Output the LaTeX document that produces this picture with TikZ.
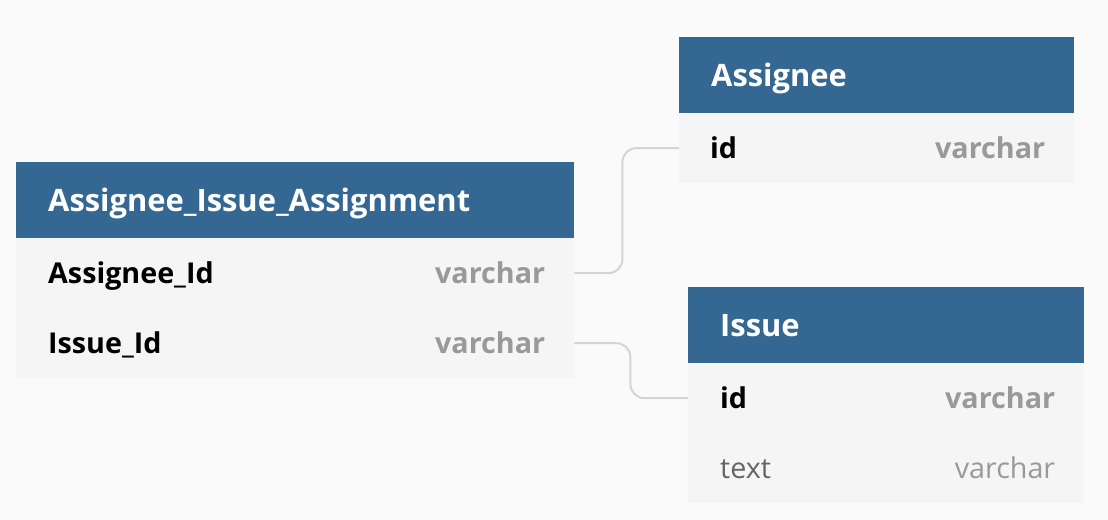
\documentclass[tikz,border=0pt]{standalone}
\usepackage{fontspec}
\setmainfont{Open Sans}
\usetikzlibrary{positioning}
\definecolor{hdrblue}{RGB}{52,104,146}
\definecolor{rowgray}{RGB}{245,245,245}
\definecolor{pagegray}{RGB}{250,250,250}
\definecolor{linkgray}{RGB}{212,212,212}
\definecolor{typegray}{RGB}{153,153,153}
\definecolor{plaingray}{RGB}{102,102,102}
\tikzset{
  tblhead/.style={fill=hdrblue,anchor=north west,minimum height=76bp,inner xsep=32bp,inner ysep=0pt,
    align=left,text=white,text height=22bp,text depth=0pt,font=\fontsize{31}{36}\selectfont\bfseries},
  tblrow/.style={fill=rowgray,anchor=north west,minimum height=70bp,inner sep=0pt},
  keyname/.style={anchor=west,inner sep=0pt,text height=20.5bp,text depth=0pt,font=\fontsize{28.8}{34}\selectfont\bfseries},
  plainname/.style={keyname,text=plaingray,font=\fontsize{28.8}{34}\selectfont},
  keytype/.style={anchor=east,inner sep=0pt,text height=20.5bp,text depth=0pt,text=typegray,font=\fontsize{28.8}{34}\selectfont\bfseries},
  plaintype/.style={keytype,font=\fontsize{28.8}{34}\selectfont},
  link/.style={draw=linkgray,line width=2bp,rounded corners=14bp},
}
\begin{document}
\begin{tikzpicture}[x=1bp,y=-1bp]
%%
\fill[pagegray] (0,0) rectangle (1108,520);
% Assignee_Issue_Assignment
\node (AIA) at (16,162) [tblhead,text width=494bp] {Assignee\_Issue\_Assignment};
  \node (AIAr1) at (16,238) [tblrow,minimum width=558bp] {};
  \node (AIAr2) at (16,308) [tblrow,minimum width=558bp] {};
  \node at ([xshift=32bp]AIAr1.west) [keyname] {Assignee\_Id};
  \node at ([xshift=-29bp]AIAr1.east) [keytype] {varchar};
  \node at ([xshift=32bp]AIAr2.west) [keyname] {Issue\_Id};
  \node at ([xshift=-29bp]AIAr2.east) [keytype] {varchar};
% Assignee
\node (Asg) at (679,37) [tblhead,text width=331bp] {Assignee};
  \node (Asgr1) at (679,113) [tblrow,minimum width=395bp] {};
  \node at ([xshift=31bp]Asgr1.west) [keyname] {id};
  \node at ([xshift=-29bp]Asgr1.east) [keytype] {varchar};
% Issue
\node (Iss) at (688,287) [tblhead,text width=332bp] {Issue};
  \node (Issr1) at (688,363) [tblrow,minimum width=396bp] {};
  \node (Issr2) at (688,433) [tblrow,minimum width=396bp] {};
  \node at ([xshift=32bp]Issr1.west) [keyname] {id};
  \node at ([xshift=-29bp]Issr1.east) [keytype] {varchar};
  \node at ([xshift=32bp]Issr2.west) [plainname] {text};
  \node at ([xshift=-29bp]Issr2.east) [plaintype] {varchar};
%
\draw [link] (AIAr1.east) -- ++(48,0) |- (Asgr1.west);
\draw [link] (AIAr2.east) -- ++(56,0) |- (Issr1.west);
%
\end{tikzpicture}
\end{document}
